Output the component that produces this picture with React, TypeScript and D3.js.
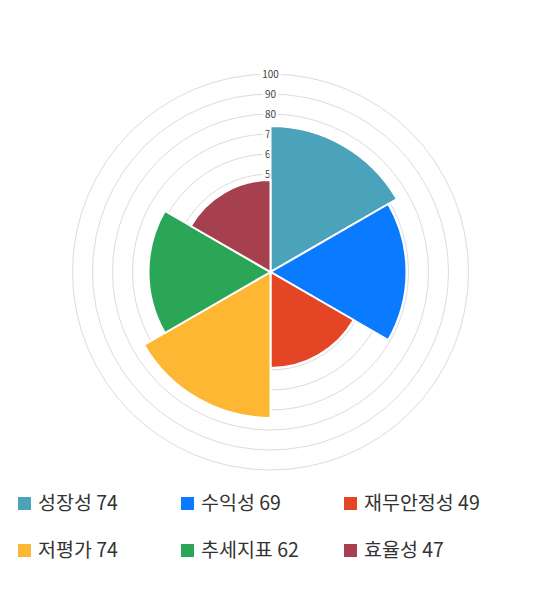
import { useEffect, useRef } from 'react';
import * as d3 from 'd3';

const categories = ['성장성', '수익성', '재무안정성', '저평가', '추세지표', '효율성'];
const scores = [74, 69, 49, 74, 62, 47];
const colors = ['#4aa2bb', '#0a7aff', '#e34525', '#fdb733', '#2ba656', '#a63f4e'];
const ringTicks = [10, 20, 30, 40, 50, 60, 70, 80, 90, 100];

const WIDTH = 540;
const HEIGHT = 590;
const CX = 270.5;
const CY = 272;
const FONT = '"Noto Sans CJK KR", "Noto Sans", sans-serif';

export default function App() {
  const svgRef = useRef<SVGSVGElement>(null);

  useEffect(() => {
    const svg = svgRef.current;
    if (!svg) return;
    d3.select(svg).selectAll('*').remove();

    const root = d3.select(svg).attr('width', WIDTH).attr('height', HEIGHT);
    const r = d3.scaleLinear().domain([1, 100]).range([0, 198]);
    const g = root.append('g').attr('transform', `translate(${CX},${CY})`);

    g.selectAll('.ring')
      .data(ringTicks)
      .enter()
      .append('circle')
      .attr('class', 'ring')
      .attr('r', (d) => r(d))
      .attr('fill', 'none')
      .attr('stroke', '#dcdcdc')
      .attr('stroke-width', 1);

    const labels = g.selectAll('.tick').data(ringTicks).enter().append('g').attr('class', 'tick')
      .attr('transform', (d) => `translate(0,${-r(d)})`);
    labels.append('rect')
      .attr('x', (d) => -(String(d).length * 5.6) / 2 - 2)
      .attr('y', -6)
      .attr('width', (d) => String(d).length * 5.6 + 4)
      .attr('height', 12)
      .attr('fill', '#fff');
    labels.append('text')
      .attr('text-anchor', 'middle')
      .attr('dy', '0.35em')
      .attr('font-family', FONT)
      .attr('font-size', '10px')
      .attr('fill', '#444')
      .text((d) => d);

    const step = (Math.PI * 2) / categories.length;
    const arc = d3.arc<number>()
      .innerRadius(0)
      .outerRadius((d) => r(scores[d]))
      .startAngle((d) => d * step)
      .endAngle((d) => (d + 1) * step);

    g.selectAll('.seg')
      .data(d3.range(categories.length))
      .enter()
      .append('path')
      .attr('class', 'seg')
      .attr('d', arc)
      .attr('fill', (d) => colors[d])
      .attr('stroke', '#fff')
      .attr('stroke-width', 2);

    const legend = root.append('g');
    const items = legend.selectAll('.item')
      .data(d3.range(categories.length))
      .enter()
      .append('g')
      .attr('class', 'item')
      .attr('transform', (d) => `translate(${18 + (d % 3) * 163},${Math.floor(d / 3) * 47 + 503})`);
    items.append('rect')
      .attr('x', 0)
      .attr('y', -6)
      .attr('width', 13)
      .attr('height', 13)
      .attr('fill', (d) => colors[d]);
    items.append('text')
      .attr('x', 20)
      .attr('dy', '0.36em')
      .attr('font-family', FONT)
      .attr('font-size', '19.5px')
      .attr('fill', '#333')
      .text((d) => `${categories[d]} ${scores[d]}`);
  }, []);

  return <svg ref={svgRef} style={{ display: 'block', position: 'absolute', left: 0, top: 0 }} />;
}
